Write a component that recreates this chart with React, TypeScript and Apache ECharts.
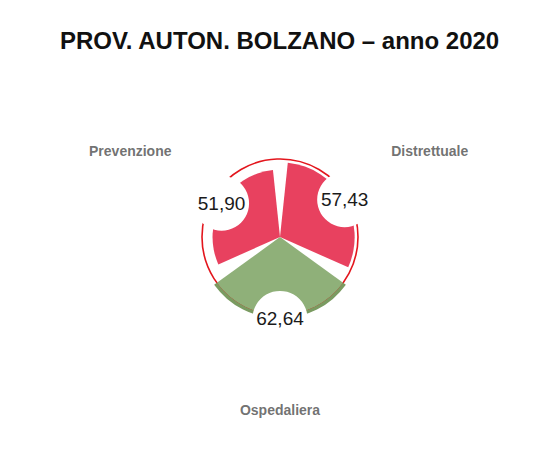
import React, { useEffect, useRef } from "react";
import * as echarts from "echarts";

const TITLE = "PROV. AUTON. BOLZANO – anno 2020";
const categories = ["Distrettuale", "Ospedaliera", "Prevenzione"];
const values = [57.43, 62.64, 51.9];
const threshold = 60;
const radiusMax = 140;
const labelRadius = 133;

const RED = "#e8415f";
const GREEN = "#8fb079";
const GREEN_DARK = "#7a9b61";

export default function App() {
  const ref = useRef<HTMLDivElement>(null);
  useEffect(() => {
    document.body.style.margin = "0";
    if (!ref.current) return;
    const chart = echarts.init(ref.current, null, { renderer: "svg" });
    const fmt = (v: number) => v.toFixed(2).replace(".", ",");
    const base = values.map((v) => Math.min(v, threshold));
    const excess = values.map((v) => Math.max(v - threshold, 0));
    chart.setOption({
      animation: false,
      backgroundColor: "#ffffff",
      title: {
        text: TITLE,
        left: 55,
        top: 23,
        textStyle: {
          fontFamily: "Liberation Sans, Arial, sans-serif",
          fontWeight: "bold",
          fontSize: 24,
          color: "#111",
        },
      },
      polar: { center: [280, 237], radius: radiusMax * 1.3 },
      angleAxis: {
        type: "category",
        data: categories,
        startAngle: 90,
        clockwise: true,
        axisLine: { show: false },
        axisTick: { show: false },
        axisLabel: { show: false },
        splitLine: { show: false },
      },
      radiusAxis: {
        type: "value",
        min: 0,
        max: radiusMax,
        interval: threshold,
        axisLine: { show: false },
        axisTick: { show: false },
        axisLabel: { show: false },
        splitLine: {
          show: true,
          lineStyle: {
            color: ["rgba(0,0,0,0)", "#e3161d", "rgba(0,0,0,0)", "rgba(0,0,0,0)"],
            width: 1.6,
          },
        },
      },
      series: [
        {
          type: "bar",
          coordinateSystem: "polar",
          stack: "tot",
          barCategoryGap: "10%",
          silent: true,
          data: base.map((v, i) => ({
            value: v,
            itemStyle: { color: values[i] >= threshold ? GREEN : RED },
          })),
        },
        {
          type: "bar",
          coordinateSystem: "polar",
          stack: "tot",
          barCategoryGap: "10%",
          silent: true,
          data: excess.map((v) => ({ value: v, itemStyle: { color: GREEN_DARK } })),
        },
        {
          type: "scatter",
          coordinateSystem: "polar",
          silent: true,
          z: 5,
          symbol: "circle",
          symbolSize: 55,
          itemStyle: { color: "#ffffff", opacity: 1 },
          label: {
            show: true,
            position: "inside",
            formatter: (p: any) => fmt(values[p.dataIndex]),
            fontFamily: "Liberation Sans, Arial, sans-serif",
            fontSize: 19,
            color: "#1a1a1a",
          },
          data: values.map((v, i) => [v, i]),
        },
        {
          type: "scatter",
          coordinateSystem: "polar",
          silent: true,
          z: 6,
          symbol: "circle",
          symbolSize: 1,
          itemStyle: { color: "rgba(0,0,0,0)" },
          label: {
            show: true,
            position: "inside",
            formatter: (p: any) => categories[p.dataIndex],
            fontFamily: "Liberation Sans, Arial, sans-serif",
            fontSize: 14,
            fontWeight: "bold",
            color: "#4d4d4d",
          },
          data: categories.map((c, i) => [labelRadius, i]),
        },
      ],
    });
    return () => chart.dispose();
  }, []);
  return <div ref={ref} style={{ width: 540, height: 457 }} />;
}
